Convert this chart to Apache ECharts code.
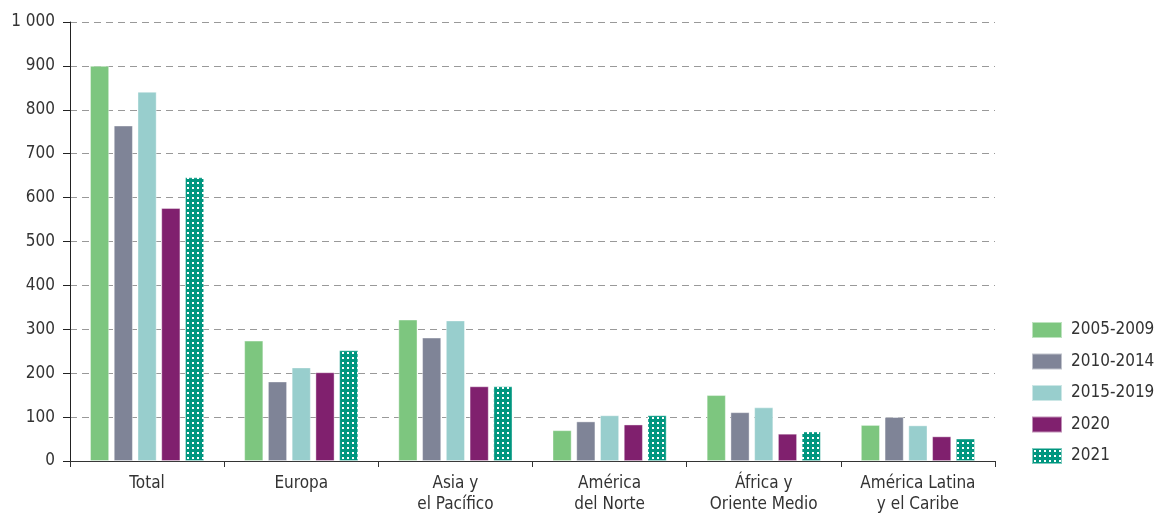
<!DOCTYPE html>
<html>
<head>
<meta charset="utf-8">
<script src="https://cdn.jsdelivr.net/npm/echarts@6.0.0/dist/echarts.min.js"></script>
<style>
  html, body { margin: 0; padding: 0; background: #fff; }
  #chart { width: 1160px; height: 515px; }
</style>
</head>
<body>
<div id="chart"></div>
<script>
// --- Data ---
var categories = ['Total', 'Europa', 'Asia y\nel Pacífico', 'América\ndel Norte', 'África y\nOriente Medio', 'América Latina\ny el Caribe'];
var seriesNames = ['2005-2009', '2010-2014', '2015-2019', '2020', '2021'];
var v2005_2009 = [900, 274, 322, 70, 150, 82];
var v2010_2014 = [764, 181, 281, 90, 111, 100];
var v2015_2019 = [841, 213, 320, 104, 122, 81];
var v2020 = [576, 202, 170, 83, 62, 56];
var v2021 = [646, 252, 170, 104, 67, 51];
var yTicks = [0, 100, 200, 300, 400, 500, 600, 700, 800, 900, 1000];

var FONT = '"DejaVu Sans Condensed", "Liberation Sans Narrow", Roboto, sans-serif';

// dotted pattern used for 2021
function makeDots() {
  var c = document.createElement('canvas');
  c.width = 5; c.height = 5;
  var ctx = c.getContext('2d');
  ctx.fillStyle = '#00967f';
  ctx.fillRect(0, 0, 5, 5);
  ctx.fillStyle = '#ffffff';
  ctx.fillRect(2, 2, 2, 2);
  return c;
}

var colors = ['#7dc67f', '#7f8497', '#98cecd', '#80206e', { image: makeDots(), repeat: 'repeat' }];
var values = [v2005_2009, v2010_2014, v2015_2019, v2020, v2021];

var chart = echarts.init(document.getElementById('chart'), null, { renderer: 'canvas' });

var series = seriesNames.map(function (name, i) {
  return {
    name: name,
    type: 'bar',
    data: values[i],
    barWidth: 19,
    barGap: '25%',
    itemStyle: {
      color: colors[i],
      borderColor: 'rgba(255,255,255,0.5)',
      borderWidth: 0.8
    },
    emphasis: { disabled: true }
  };
});

chart.setOption({
  animation: false,
  textStyle: { fontFamily: FONT },
  grid: { left: 70, right: 165, top: 22, bottom: 52 },
  legend: {
    orient: 'vertical',
    left: 1026,
    top: 316,
    itemWidth: 30,
    itemHeight: 16,
    itemGap: 13.5,
    icon: 'rect',
    textStyle: { fontSize: 17, color: '#333', fontFamily: FONT, padding: [0, 0, 0, 4] },
    data: seriesNames
  },
  xAxis: {
    type: 'category',
    data: categories,
    axisLine: { lineStyle: { color: '#333', width: 1 } },
    axisTick: { show: true, length: 6, alignWithLabel: false, lineStyle: { color: '#333' } },
    axisLabel: { fontSize: 17, color: '#333', lineHeight: 21, margin: 12, fontFamily: FONT, interval: 0 }
  },
  yAxis: {
    type: 'value',
    min: yTicks[0],
    max: yTicks[yTicks.length - 1],
    interval: 100,
    axisLine: { show: true, lineStyle: { color: '#222', width: 1 } },
    axisTick: { show: true, length: 7, lineStyle: { color: '#222' } },
    axisLabel: {
      fontSize: 17, color: '#333', margin: 15, fontFamily: FONT,
      formatter: function (v) { return v >= 1000 ? String(v).replace(/\B(?=(\d{3})+(?!\d))/g, ' ') : String(v); }
    },
    splitLine: { show: true, lineStyle: { color: '#999', type: [7, 5], width: 1 } }
  },
  series: series
});
</script>
</body>
</html>
